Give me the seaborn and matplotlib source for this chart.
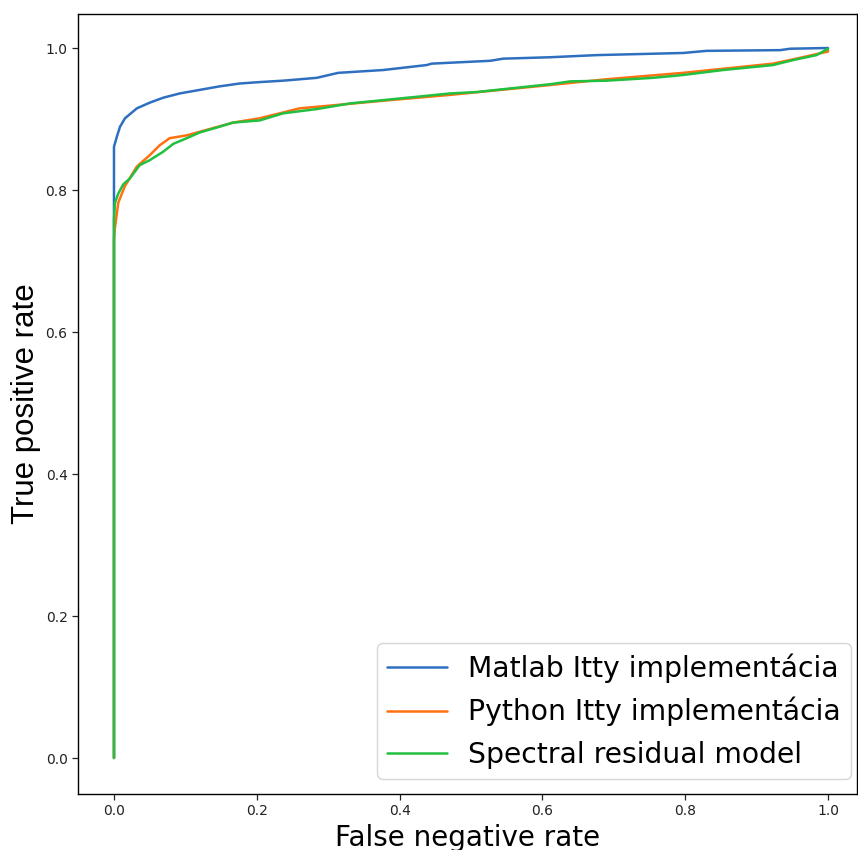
import numpy as np
import pandas as pd
import matplotlib
matplotlib.use("Agg")
import matplotlib.pyplot as plt
import seaborn as sns

# Data (ROC-like curves)
matlab_fpr = [0.0, 0.0, 0.004, 0.0084, 0.0154, 0.032, 0.050, 0.069, 0.092, 0.120, 0.148, 0.176, 0.204,
              0.237, 0.284, 0.314, 0.377, 0.438, 0.445, 0.527, 0.545, 0.611, 0.676, 0.797, 0.830,
              0.933, 0.947, 1.0]
matlab_tpr = [0.0, 0.861, 0.875, 0.889, 0.901, 0.915, 0.923, 0.930, 0.936, 0.941, 0.946, 0.950, 0.952,
              0.954, 0.958, 0.965, 0.969, 0.976, 0.978, 0.982, 0.985, 0.987, 0.990, 0.993, 0.996,
              0.997, 0.999, 1.0]

python_fpr = [0.0, 0.0, 0.001, 0.006, 0.015, 0.032, 0.050, 0.064, 0.078, 0.102, 0.120, 0.167, 0.204,
              0.260, 0.391, 0.471, 0.592, 0.690, 0.797, 0.923, 0.951, 1.0, 1.0]
python_tpr = [0.0, 0.730, 0.744, 0.782, 0.805, 0.833, 0.849, 0.863, 0.873, 0.877, 0.882, 0.895, 0.901,
              0.915, 0.927, 0.934, 0.946, 0.956, 0.965, 0.978, 0.984, 0.995, 0.997]

spectral_fpr = [0.0, 0.0, 0.0014, 0.006, 0.013, 0.022, 0.036, 0.050, 0.069, 0.083, 0.102, 0.120, 0.144,
                0.167, 0.204, 0.237, 0.284, 0.331, 0.391, 0.471, 0.508, 0.564, 0.611, 0.639, 0.690,
                0.755, 0.797, 0.853, 0.923, 0.951, 0.984, 1.0]
spectral_tpr = [0.0, 0.760, 0.782, 0.795, 0.808, 0.816, 0.835, 0.842, 0.854, 0.865, 0.873, 0.881, 0.888,
                0.895, 0.898, 0.908, 0.914, 0.922, 0.928, 0.936, 0.938, 0.944, 0.949, 0.953, 0.954,
                0.958, 0.962, 0.969, 0.976, 0.983, 0.990, 0.999]

series_names = ["Matlab Itty implementácia", "Python Itty implementácia", "Spectral residual model"]

frames = []
for name, fx, fy in zip(series_names, [matlab_fpr, python_fpr, spectral_fpr],
                        [matlab_tpr, python_tpr, spectral_tpr]):
    frames.append(pd.DataFrame({"fpr": fx, "tpr": fy, "model": name, "order": np.arange(len(fx))}))
df = pd.concat(frames, ignore_index=True)

sns.set_style("ticks")
plt.rcParams["font.family"] = ["DejaVu Sans"]
plt.rcParams["text.color"] = "black"
plt.rcParams["axes.labelcolor"] = "black"

W, H = 858, 850
fig = plt.figure(figsize=(W / 100, H / 100), dpi=100)
ax_l, ax_r, ax_t, ax_b = 78, 857, 14, 794
ax = fig.add_axes([ax_l / W, (H - ax_b) / H, (ax_r - ax_l) / W, (ax_b - ax_t) / H])

palette = {series_names[0]: "#2f6fc0", series_names[1]: "#ff7010", series_names[2]: "#22c040"}
sns.lineplot(data=df, x="fpr", y="tpr", hue="model", palette=palette, sort=False,
             estimator=None, units="model", linewidth=1.8, ax=ax, hue_order=series_names)

ax.set_xlim(-0.0504, 1.0406)
ax.set_ylim(-0.0507, 1.0479)
ax.set_xticks([0.0, 0.2, 0.4, 0.6, 0.8, 1.0])
ax.set_yticks([0.0, 0.2, 0.4, 0.6, 0.8, 1.0])
ax.tick_params(labelsize=10, length=4, width=0.9, colors="#222222", labelcolor="#222222")
for s in ax.spines.values():
    s.set_visible(True)
    s.set_linewidth(1.0)
    s.set_color("black")

ax.set_xlabel("False negative rate", fontsize=20, labelpad=4, color="black")
ax.set_ylabel("True positive rate", fontsize=22.5, labelpad=3, color="black",
              family=["Liberation Sans", "DejaVu Sans"])

leg = ax.legend(loc="lower right",
                bbox_to_anchor=((851 - ax_l) / (ax_r - ax_l), (ax_b - 779) / (ax_b - ax_t)),
                borderaxespad=0.0, fontsize=20.3, handlelength=2.1, borderpad=0.37,
                labelspacing=0.5, handletextpad=0.75, framealpha=0.8)
for t in leg.get_texts():
    t.set_color("black")

fig.savefig("out.png", dpi=100)
